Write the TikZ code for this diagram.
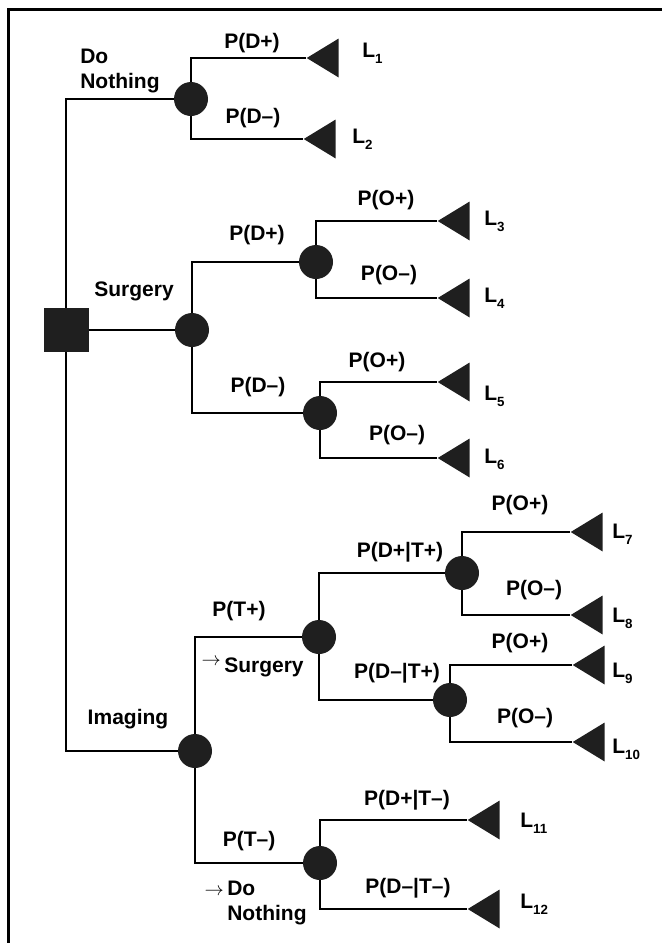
\documentclass[tikz,border=0pt]{standalone}
\usepackage{fontspec}
\setmainfont{Liberation Sans}
\usetikzlibrary{shapes.geometric}
% outcome label with a lowered index
\newcommand\Lsub[1]{L\raisebox{-5pt}{\fontsize{10}{11}\selectfont\bfseries #1}}

\begin{document}
\begin{tikzpicture}[x=0.75pt,y=-0.75pt,
  every node/.style={font=\fontsize{15.75}{18.75}\selectfont\bfseries},
  branch/.style={line width=0.9pt},
  chance/.style={circle,fill=black!88,minimum size=25.5pt,inner sep=0pt},
  decision/.style={rectangle,fill=black!88,minimum width=33.75pt,minimum height=33pt,inner sep=0pt},
  terminal/.style={isosceles triangle,isosceles triangle stretches,shape border rotate=180,
    fill=black!88,minimum width=29.25pt,minimum height=24pt,inner sep=0pt,anchor=apex},
  lbl/.style={inner sep=0pt},
  outc/.style={inner sep=0pt,anchor=base west},
]
\useasboundingbox (0,0) rectangle (662,943);

% frame
\draw[line width=2.25pt] (8.5,943) -- (8.5,9) -- (662,9);

% decision and chance nodes
\node[decision] (sq) at (66,330) {};
\node[chance] (c1) at (191,99) {};
\node[chance] (c2) at (192,330) {};
\node[chance] (c3) at (316,262) {};
\node[chance] (c4) at (320,413) {};
\node[chance] (c5) at (195,751) {};
\node[chance] (c6) at (319,637) {};
\node[chance] (c7) at (462,573) {};
\node[chance] (c8) at (450,700) {};
\node[chance] (c9) at (320,863) {};

% terminal nodes
\node[terminal] (t1) at (306,58) {};
\node[terminal] (t2) at (303,139) {};
\node[terminal] (t3) at (437,221) {};
\node[terminal] (t4) at (437,298) {};
\node[terminal] (t5) at (437,382) {};
\node[terminal] (t6) at (437,458) {};
\node[terminal] (t7) at (570,532) {};
\node[terminal] (t8) at (570,615) {};
\node[terminal] (t9) at (572,665) {};
\node[terminal] (t10) at (572,742) {};
\node[terminal] (t11) at (467,820) {};
\node[terminal] (t12) at (467,909) {};

% branches
\draw[branch] (sq) |- (c1);
\draw[branch] (sq) -- (c2);
\draw[branch] (sq) |- (c5);
\draw[branch] (c1) |- (t1);
\draw[branch] (c1) |- (t2);
\draw[branch] (c2) |- (c3);
\draw[branch] (c2) |- (c4);
\draw[branch] (c3) |- (t3);
\draw[branch] (c3) |- (t4);
\draw[branch] (c4) |- (t5);
\draw[branch] (c4) |- (t6);
\draw[branch] (c5) |- (c6);
\draw[branch] (c5) |- (c9);
\draw[branch] (c6) |- (c7);
\draw[branch] (c6) |- (c8);
\draw[branch] (c7) |- (t7);
\draw[branch] (c7) |- (t8);
\draw[branch] (c8) |- (t9);
\draw[branch] (c8) |- (t10);
\draw[branch] (c9) |- (t11);
\draw[branch] (c9) |- (t12);

% strategy labels
\node[lbl,align=left,anchor=west] (donothing) at (80,71) {Do\\Nothing};
\node[lbl] (surgery) at (134,291) {Surgery};
\node[lbl] (imaging) at (128,719) {Imaging};
\node[lbl,anchor=west] (tsurg) at (224,667) {\llap{\raisebox{5pt}{$\rightarrow$}\,}Surgery};
\node[lbl,align=left,anchor=west] (tnothing) at (227,903) {\llap{$\rightarrow$\,}Do\\Nothing};

% probability labels
\node[lbl] (p1) at (252,43) {P(D+)};
\node[lbl] (p2) at (253,118) {P(D–)};
\node[lbl] (p3) at (257,235) {P(D+)};
\node[lbl] (p4) at (258,387) {P(D–)};
\node[lbl] (p5) at (386,200) {P(O+)};
\node[lbl] (p6) at (389,275) {P(O–)};
\node[lbl] (p7) at (377,362) {P(O+)};
\node[lbl] (p8) at (397,435) {P(O–)};
\node[lbl] (p9) at (239,611) {P(T+)};
\node[lbl] (p10) at (249,841) {P(T–)};
\node[lbl] (p11) at (400,552) {P(D+|T+)};
\node[lbl] (p12) at (397,673) {P(D–|T+)};
\node[lbl] (p13) at (520,505) {P(O+)};
\node[lbl] (p14) at (534,590) {P(O–)};
\node[lbl] (p15) at (520,643) {P(O+)};
\node[lbl] (p16) at (525,718) {P(O–)};
\node[lbl] (p17) at (407,800) {P(D+|T–)};
\node[lbl] (p18) at (408,888) {P(D–|T–)};

% outcome labels
\node[outc] (l1) at (362,57) {\Lsub{1}};
\node[outc] (l2) at (352,143) {\Lsub{2}};
\node[outc] (l3) at (484,225) {\Lsub{3}};
\node[outc] (l4) at (484,302) {\Lsub{4}};
\node[outc] (l5) at (484,400) {\Lsub{5}};
\node[outc] (l6) at (484,463) {\Lsub{6}};
\node[outc] (l7) at (612,538) {\Lsub{7}};
\node[outc] (l8) at (612,622) {\Lsub{8}};
\node[outc] (l9) at (612,677) {\Lsub{9}};
\node[outc] (l10) at (612,753) {\Lsub{10}};
\node[outc] (l11) at (520,827) {\Lsub{11}};
\node[outc] (l12) at (520,908) {\Lsub{12}};
\end{tikzpicture}
\end{document}
